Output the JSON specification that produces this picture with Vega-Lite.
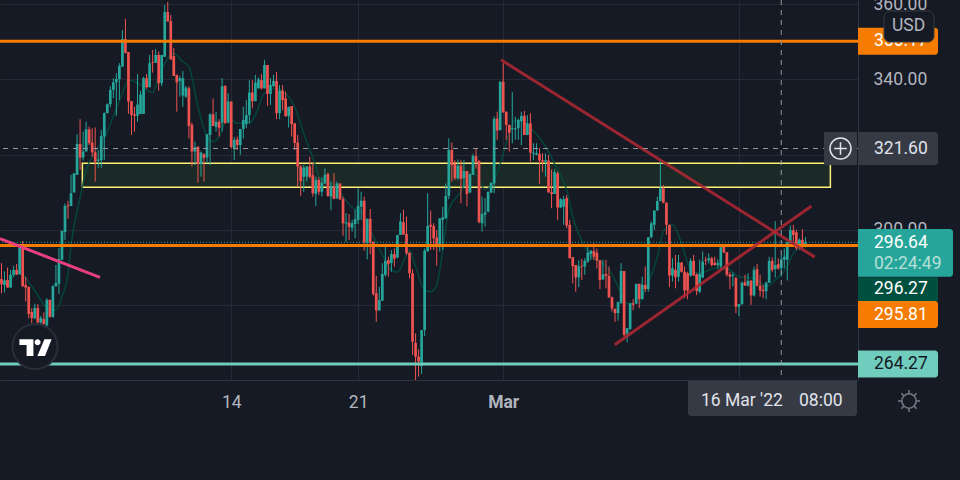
{
  "$schema": "https://vega.github.io/schema/vega-lite/v6.json",
  "width": 858,
  "height": 380,
  "autosize": {"type": "none"},
  "padding": {"left": 0, "top": 0, "right": 102, "bottom": 100},
  "background": "#161a25",
  "config": {"font": "Roboto", "view": {"stroke": null}},
  "datasets": {
    "candles": [
      {"t":"2022-02-01T08:00Z","o":286.9,"h":291.1,"l":283.1,"c":285.5},
      {"t":"2022-02-01T12:00Z","o":285.3,"h":288.9,"l":283.3,"c":286.5},
      {"t":"2022-02-01T16:00Z","o":286.6,"h":289.9,"l":284.6,"c":284.6},
      {"t":"2022-02-01T20:00Z","o":284.6,"h":289.3,"l":284.6,"c":288},
      {"t":"2022-02-02T00:00Z","o":288,"h":290.4,"l":287.4,"c":289.3},
      {"t":"2022-02-02T04:00Z","o":289.3,"h":290.9,"l":287.9,"c":288.1},
      {"t":"2022-02-02T08:00Z","o":288.1,"h":295.3,"l":288.1,"c":295.3},
      {"t":"2022-02-02T12:00Z","o":295.3,"h":297,"l":284.7,"c":285},
      {"t":"2022-02-02T16:00Z","o":285.3,"h":287.4,"l":280.9,"c":284.6},
      {"t":"2022-02-02T20:00Z","o":284.8,"h":284.8,"l":276.4,"c":277.6},
      {"t":"2022-02-03T00:00Z","o":278.1,"h":279.1,"l":275.1,"c":276.5},
      {"t":"2022-02-03T04:00Z","o":276.4,"h":280.3,"l":276.2,"c":279.2},
      {"t":"2022-02-03T08:00Z","o":279.2,"h":280.2,"l":275.1,"c":275.3},
      {"t":"2022-02-03T12:00Z","o":275.3,"h":277.1,"l":274.9,"c":276.5},
      {"t":"2022-02-03T16:00Z","o":276.2,"h":278,"l":274.7,"c":274.9},
      {"t":"2022-02-03T20:00Z","o":274.5,"h":281.8,"l":274.4,"c":281.3},
      {"t":"2022-02-04T00:00Z","o":281.3,"h":281.5,"l":276.6,"c":276.8},
      {"t":"2022-02-04T04:00Z","o":276.8,"h":285.2,"l":276.6,"c":285},
      {"t":"2022-02-04T08:00Z","o":284.9,"h":290.6,"l":284.9,"c":285.8},
      {"t":"2022-02-04T12:00Z","o":285.6,"h":295.1,"l":282.9,"c":292.2},
      {"t":"2022-02-04T16:00Z","o":292,"h":299.7,"l":292,"c":299.7},
      {"t":"2022-02-04T20:00Z","o":299.4,"h":307,"l":297.3,"c":306.3},
      {"t":"2022-02-05T00:00Z","o":306.5,"h":307.7,"l":302.9,"c":306.2},
      {"t":"2022-02-05T04:00Z","o":306.3,"h":314.6,"l":306.3,"c":309.7},
      {"t":"2022-02-05T08:00Z","o":309.9,"h":315,"l":309.9,"c":315},
      {"t":"2022-02-05T12:00Z","o":314.6,"h":325.4,"l":314.6,"c":322.8},
      {"t":"2022-02-05T16:00Z","o":322.8,"h":329.4,"l":315.9,"c":319.2},
      {"t":"2022-02-05T20:00Z","o":319.2,"h":326.1,"l":318.4,"c":320.8},
      {"t":"2022-02-06T00:00Z","o":320.8,"h":328.7,"l":320.8,"c":326.7},
      {"t":"2022-02-06T04:00Z","o":326.7,"h":327.4,"l":322.5,"c":323},
      {"t":"2022-02-06T08:00Z","o":323.2,"h":327,"l":319.4,"c":320.6},
      {"t":"2022-02-06T12:00Z","o":320.6,"h":327.2,"l":312.8,"c":318.1},
      {"t":"2022-02-06T16:00Z","o":318.3,"h":321.2,"l":316.5,"c":318.7},
      {"t":"2022-02-06T20:00Z","o":318.5,"h":326.5,"l":316.5,"c":324.9},
      {"t":"2022-02-07T00:00Z","o":324.8,"h":331.2,"l":318.5,"c":331},
      {"t":"2022-02-07T04:00Z","o":331,"h":333.6,"l":331,"c":333.4},
      {"t":"2022-02-07T08:00Z","o":333.4,"h":338.2,"l":332.6,"c":337.2},
      {"t":"2022-02-07T12:00Z","o":337.2,"h":340.3,"l":335,"c":339.2},
      {"t":"2022-02-07T16:00Z","o":339.2,"h":341.6,"l":330.3,"c":340.1},
      {"t":"2022-02-07T20:00Z","o":340.1,"h":344.3,"l":334.5,"c":343.6},
      {"t":"2022-02-08T00:00Z","o":343.4,"h":353.1,"l":343.4,"c":350.7},
      {"t":"2022-02-08T04:00Z","o":350.7,"h":356.1,"l":346.9,"c":347.1},
      {"t":"2022-02-08T08:00Z","o":347.3,"h":347.3,"l":330.8,"c":334.1},
      {"t":"2022-02-08T12:00Z","o":334.2,"h":334.2,"l":325.2,"c":330.5},
      {"t":"2022-02-08T16:00Z","o":330.7,"h":332.7,"l":326.1,"c":330.3},
      {"t":"2022-02-08T20:00Z","o":330.3,"h":341.4,"l":328.7,"c":333.3},
      {"t":"2022-02-09T00:00Z","o":330.8,"h":337,"l":330.8,"c":336},
      {"t":"2022-02-09T04:00Z","o":330.8,"h":340.7,"l":330.8,"c":340.3},
      {"t":"2022-02-09T08:00Z","o":340.3,"h":341.4,"l":337.5,"c":337.9},
      {"t":"2022-02-09T12:00Z","o":337.9,"h":346.5,"l":337.9,"c":344.3},
      {"t":"2022-02-09T16:00Z","o":344.6,"h":347.8,"l":341.8,"c":344.4},
      {"t":"2022-02-09T20:00Z","o":344.4,"h":348.1,"l":344.4,"c":346.5},
      {"t":"2022-02-10T00:00Z","o":346.5,"h":347.4,"l":337,"c":339},
      {"t":"2022-02-10T04:00Z","o":339,"h":346.5,"l":338.2,"c":346.5},
      {"t":"2022-02-10T08:00Z","o":346,"h":359.8,"l":346,"c":357.9},
      {"t":"2022-02-10T12:00Z","o":357.9,"h":360.6,"l":355.4,"c":355.4},
      {"t":"2022-02-10T16:00Z","o":355.5,"h":357.1,"l":345.2,"c":345.3},
      {"t":"2022-02-10T20:00Z","o":346.2,"h":348.3,"l":340.9,"c":340.9},
      {"t":"2022-02-11T00:00Z","o":341.2,"h":341.2,"l":331.4,"c":339.2},
      {"t":"2022-02-11T04:00Z","o":339.6,"h":340.9,"l":335.4,"c":340.3},
      {"t":"2022-02-11T08:00Z","o":335.7,"h":342.2,"l":332.7,"c":340.3},
      {"t":"2022-02-11T12:00Z","o":335.4,"h":338.2,"l":335.1,"c":337.8},
      {"t":"2022-02-11T16:00Z","o":337.6,"h":338.2,"l":324.3,"c":327.6},
      {"t":"2022-02-11T20:00Z","o":327.9,"h":328.5,"l":316.8,"c":320.8},
      {"t":"2022-02-12T00:00Z","o":320.8,"h":323.4,"l":317.2,"c":321.9},
      {"t":"2022-02-12T04:00Z","o":322.1,"h":322.1,"l":312.5,"c":317.5},
      {"t":"2022-02-12T08:00Z","o":317.5,"h":320.8,"l":314.1,"c":320.5},
      {"t":"2022-02-12T12:00Z","o":320.1,"h":320.3,"l":312.8,"c":319.1},
      {"t":"2022-02-12T16:00Z","o":319.2,"h":325.4,"l":317.7,"c":325.4},
      {"t":"2022-02-12T20:00Z","o":325.2,"h":331,"l":317.2,"c":330.7},
      {"t":"2022-02-13T00:00Z","o":330.7,"h":334.9,"l":327.6,"c":327.6},
      {"t":"2022-02-13T04:00Z","o":327.4,"h":331.4,"l":326.1,"c":328.7},
      {"t":"2022-02-13T08:00Z","o":328.7,"h":329.4,"l":324.8,"c":327.1},
      {"t":"2022-02-13T12:00Z","o":328.5,"h":340.3,"l":326.1,"c":338.2},
      {"t":"2022-02-13T16:00Z","o":338.2,"h":338.5,"l":328.3,"c":328.3},
      {"t":"2022-02-13T20:00Z","o":328.5,"h":336.3,"l":328.3,"c":334.1},
      {"t":"2022-02-14T00:00Z","o":334.1,"h":334.1,"l":321.6,"c":322},
      {"t":"2022-02-14T04:00Z","o":321.6,"h":324.6,"l":318.5,"c":323.9},
      {"t":"2022-02-14T08:00Z","o":324,"h":324.8,"l":321.2,"c":322.5},
      {"t":"2022-02-14T12:00Z","o":322.5,"h":326.8,"l":319.9,"c":326.8},
      {"t":"2022-02-14T16:00Z","o":326.8,"h":332.7,"l":324.3,"c":329.2},
      {"t":"2022-02-14T20:00Z","o":328.1,"h":334.5,"l":327,"c":330.5},
      {"t":"2022-02-15T00:00Z","o":330.5,"h":339.8,"l":328.3,"c":336.5},
      {"t":"2022-02-15T04:00Z","o":336.5,"h":339.8,"l":332.3,"c":334.2},
      {"t":"2022-02-15T08:00Z","o":334.2,"h":341.2,"l":334.2,"c":339.1},
      {"t":"2022-02-15T12:00Z","o":337.6,"h":340.5,"l":337.6,"c":340},
      {"t":"2022-02-15T16:00Z","o":339.8,"h":341.4,"l":337.3,"c":337.6},
      {"t":"2022-02-15T20:00Z","o":337.6,"h":345.2,"l":337.6,"c":343.8},
      {"t":"2022-02-16T00:00Z","o":343.8,"h":343.8,"l":332.9,"c":336.1},
      {"t":"2022-02-16T04:00Z","o":336.1,"h":340.3,"l":333.2,"c":338.5},
      {"t":"2022-02-16T08:00Z","o":338.2,"h":341.2,"l":337.9,"c":339.6},
      {"t":"2022-02-16T12:00Z","o":339.6,"h":342,"l":329.4,"c":331},
      {"t":"2022-02-16T16:00Z","o":331,"h":338.5,"l":329.4,"c":337},
      {"t":"2022-02-16T20:00Z","o":337,"h":338.5,"l":331.8,"c":334.5},
      {"t":"2022-02-17T00:00Z","o":334.9,"h":336.7,"l":330.1,"c":330.2},
      {"t":"2022-02-17T04:00Z","o":330.2,"h":332.7,"l":327.2,"c":332.7},
      {"t":"2022-02-17T08:00Z","o":332.9,"h":332.9,"l":324.8,"c":328.1},
      {"t":"2022-02-17T12:00Z","o":328.3,"h":328.3,"l":321.2,"c":323.1},
      {"t":"2022-02-17T16:00Z","o":323.2,"h":325.2,"l":311.4,"c":316.8},
      {"t":"2022-02-17T20:00Z","o":316.8,"h":317.2,"l":309,"c":312.9},
      {"t":"2022-02-18T00:00Z","o":314.1,"h":317.2,"l":310.1,"c":316.5},
      {"t":"2022-02-18T04:00Z","o":314.1,"h":316.8,"l":312.8,"c":316.8},
      {"t":"2022-02-18T08:00Z","o":316.8,"h":319.4,"l":313.7,"c":314.1},
      {"t":"2022-02-18T12:00Z","o":314.5,"h":317.7,"l":308.8,"c":309.7},
      {"t":"2022-02-18T16:00Z","o":309.5,"h":314.1,"l":306.3,"c":313.2},
      {"t":"2022-02-18T20:00Z","o":313.2,"h":313.9,"l":309.2,"c":310.1},
      {"t":"2022-02-19T00:00Z","o":310.1,"h":313.9,"l":308.8,"c":312.5},
      {"t":"2022-02-19T04:00Z","o":312.3,"h":316.3,"l":312.2,"c":314.6},
      {"t":"2022-02-19T08:00Z","o":314.8,"h":315.2,"l":308.8,"c":309},
      {"t":"2022-02-19T12:00Z","o":308.8,"h":312.8,"l":305.2,"c":311.6},
      {"t":"2022-02-19T16:00Z","o":311.5,"h":315,"l":308.1,"c":308.2},
      {"t":"2022-02-19T20:00Z","o":308.4,"h":312.8,"l":308.1,"c":312.3},
      {"t":"2022-02-20T00:00Z","o":312.3,"h":312.3,"l":307.9,"c":308.1},
      {"t":"2022-02-20T04:00Z","o":308.1,"h":308.8,"l":298.4,"c":301.7},
      {"t":"2022-02-20T08:00Z","o":301.6,"h":304.4,"l":296.8,"c":301.9},
      {"t":"2022-02-20T12:00Z","o":301.9,"h":304.2,"l":297.3,"c":300.8},
      {"t":"2022-02-20T16:00Z","o":300.5,"h":302.6,"l":299.5,"c":301.7},
      {"t":"2022-02-20T20:00Z","o":301.5,"h":305.3,"l":297.7,"c":302.8},
      {"t":"2022-02-21T00:00Z","o":302.6,"h":311,"l":301.5,"c":306.3},
      {"t":"2022-02-21T04:00Z","o":306.1,"h":310.1,"l":302.6,"c":307.7},
      {"t":"2022-02-21T08:00Z","o":307.7,"h":308.8,"l":294.4,"c":296.6},
      {"t":"2022-02-21T12:00Z","o":296.6,"h":302.9,"l":292.1,"c":302.9},
      {"t":"2022-02-21T16:00Z","o":302.9,"h":305.5,"l":293.5,"c":296.6},
      {"t":"2022-02-21T20:00Z","o":296.8,"h":296.8,"l":282.4,"c":282.9},
      {"t":"2022-02-22T00:00Z","o":283.1,"h":287.7,"l":275.5,"c":278.5},
      {"t":"2022-02-22T04:00Z","o":278.5,"h":284.8,"l":278.5,"c":281.3},
      {"t":"2022-02-22T08:00Z","o":281.1,"h":291.1,"l":281.1,"c":288.2},
      {"t":"2022-02-22T12:00Z","o":288,"h":295.7,"l":287.5,"c":291.7},
      {"t":"2022-02-22T16:00Z","o":291.9,"h":292.8,"l":287.5,"c":290.9},
      {"t":"2022-02-22T20:00Z","o":291.1,"h":294.6,"l":288.8,"c":293.5},
      {"t":"2022-02-23T00:00Z","o":293.5,"h":295,"l":290.2,"c":292.3},
      {"t":"2022-02-23T04:00Z","o":292.6,"h":298.6,"l":292.4,"c":298.6},
      {"t":"2022-02-23T08:00Z","o":298.6,"h":304.4,"l":298.6,"c":302.2},
      {"t":"2022-02-23T12:00Z","o":302,"h":305.3,"l":298.7,"c":298.7},
      {"t":"2022-02-23T16:00Z","o":298.9,"h":303.5,"l":293.3,"c":293.7},
      {"t":"2022-02-23T20:00Z","o":293.9,"h":293.9,"l":287,"c":288.4},
      {"t":"2022-02-24T00:00Z","o":288.4,"h":289.5,"l":266.7,"c":270.2},
      {"t":"2022-02-24T04:00Z","o":269.9,"h":272.4,"l":260,"c":266.2},
      {"t":"2022-02-24T08:00Z","o":266.2,"h":268.2,"l":260.9,"c":264.9},
      {"t":"2022-02-24T12:00Z","o":263.7,"h":273.3,"l":261.6,"c":273.3},
      {"t":"2022-02-24T16:00Z","o":273.3,"h":295,"l":271.7,"c":294.4},
      {"t":"2022-02-24T20:00Z","o":294.2,"h":309.7,"l":294.2,"c":301},
      {"t":"2022-02-25T00:00Z","o":301.3,"h":305.1,"l":294.6,"c":300.8},
      {"t":"2022-02-25T04:00Z","o":301,"h":301.7,"l":294.6,"c":297.7},
      {"t":"2022-02-25T08:00Z","o":297.9,"h":299.9,"l":290.4,"c":295.7},
      {"t":"2022-02-25T12:00Z","o":295.9,"h":303,"l":294.2,"c":303},
      {"t":"2022-02-25T16:00Z","o":302.6,"h":306.1,"l":294.6,"c":303.3},
      {"t":"2022-02-25T20:00Z","o":303,"h":312.3,"l":303,"c":309},
      {"t":"2022-02-26T00:00Z","o":309,"h":324.3,"l":308.1,"c":321.2},
      {"t":"2022-02-26T04:00Z","o":321.2,"h":323.2,"l":312.8,"c":317.2},
      {"t":"2022-02-26T08:00Z","o":317.5,"h":318.5,"l":313.2,"c":313.7},
      {"t":"2022-02-26T12:00Z","o":313.7,"h":318.7,"l":313.2,"c":317},
      {"t":"2022-02-26T16:00Z","o":317,"h":318.5,"l":307,"c":313.5},
      {"t":"2022-02-26T20:00Z","o":313.7,"h":318.5,"l":311,"c":315.6},
      {"t":"2022-02-27T00:00Z","o":315.6,"h":315.6,"l":306.2,"c":309.5},
      {"t":"2022-02-27T04:00Z","o":309.9,"h":314.8,"l":309.7,"c":314.8},
      {"t":"2022-02-27T08:00Z","o":314.6,"h":320.2,"l":314.6,"c":319.6},
      {"t":"2022-02-27T12:00Z","o":319.6,"h":321.7,"l":316.3,"c":318.1},
      {"t":"2022-02-27T16:00Z","o":318.3,"h":318.5,"l":301.7,"c":302},
      {"t":"2022-02-27T20:00Z","o":301.7,"h":308.8,"l":299.5,"c":304.2},
      {"t":"2022-02-28T00:00Z","o":304,"h":308.4,"l":300.8,"c":304.6},
      {"t":"2022-02-28T04:00Z","o":304.8,"h":310.1,"l":304.6,"c":310.1},
      {"t":"2022-02-28T08:00Z","o":309.9,"h":312.5,"l":309.7,"c":312.5},
      {"t":"2022-02-28T12:00Z","o":312.3,"h":330.1,"l":309.7,"c":329.5},
      {"t":"2022-02-28T16:00Z","o":329.6,"h":331.4,"l":323.9,"c":326.4},
      {"t":"2022-02-28T20:00Z","o":326.5,"h":339.4,"l":326.4,"c":339.4},
      {"t":"2022-03-01T00:00Z","o":339.4,"h":344.3,"l":331.2,"c":331.2},
      {"t":"2022-03-01T04:00Z","o":331.4,"h":331.4,"l":323.9,"c":327.9},
      {"t":"2022-03-01T08:00Z","o":327.9,"h":327.9,"l":320.8,"c":325.8},
      {"t":"2022-03-01T12:00Z","o":326.7,"h":336.6,"l":323,"c":327},
      {"t":"2022-03-01T16:00Z","o":326.7,"h":330.1,"l":323.9,"c":327},
      {"t":"2022-03-01T20:00Z","o":327,"h":329.6,"l":323.9,"c":329.2},
      {"t":"2022-03-02T00:00Z","o":328.9,"h":331.4,"l":322.5,"c":330.3},
      {"t":"2022-03-02T04:00Z","o":330.3,"h":331.6,"l":325.2,"c":325.2},
      {"t":"2022-03-02T08:00Z","o":325.2,"h":330.5,"l":325.2,"c":328.3},
      {"t":"2022-03-02T12:00Z","o":328.3,"h":331,"l":318.1,"c":320.5},
      {"t":"2022-03-02T16:00Z","o":320.2,"h":323,"l":318.5,"c":320.5},
      {"t":"2022-03-02T20:00Z","o":319.9,"h":323,"l":319.8,"c":320.3},
      {"t":"2022-03-03T00:00Z","o":320.2,"h":321.7,"l":312.2,"c":318.4},
      {"t":"2022-03-03T04:00Z","o":318.5,"h":320.3,"l":315.4,"c":318.1},
      {"t":"2022-03-03T08:00Z","o":318.1,"h":320.3,"l":314.1,"c":318.5},
      {"t":"2022-03-03T12:00Z","o":318.4,"h":319.9,"l":309.9,"c":309.9},
      {"t":"2022-03-03T16:00Z","o":310,"h":316,"l":305.7,"c":309.5},
      {"t":"2022-03-03T20:00Z","o":309.5,"h":316.1,"l":309.5,"c":315.3},
      {"t":"2022-03-04T00:00Z","o":315,"h":315.5,"l":302.6,"c":305.9},
      {"t":"2022-03-04T04:00Z","o":305.9,"h":308.4,"l":305.7,"c":308.1},
      {"t":"2022-03-04T08:00Z","o":306.1,"h":309,"l":301.3,"c":308.1},
      {"t":"2022-03-04T12:00Z","o":308.4,"h":309.2,"l":300.4,"c":301.1},
      {"t":"2022-03-04T16:00Z","o":301.3,"h":302.6,"l":292.4,"c":292.4},
      {"t":"2022-03-04T20:00Z","o":292.7,"h":292.7,"l":285.7,"c":290.3},
      {"t":"2022-03-05T00:00Z","o":290.6,"h":290.6,"l":283.5,"c":287.3},
      {"t":"2022-03-05T04:00Z","o":287.3,"h":291.9,"l":284.7,"c":290.3},
      {"t":"2022-03-05T08:00Z","o":290.4,"h":292.2,"l":286.6,"c":290.2},
      {"t":"2022-03-05T12:00Z","o":290.2,"h":292.4,"l":288,"c":291.7},
      {"t":"2022-03-05T16:00Z","o":291.5,"h":295.7,"l":291.2,"c":293.9},
      {"t":"2022-03-05T20:00Z","o":293.5,"h":294.6,"l":291.9,"c":294.4},
      {"t":"2022-03-06T00:00Z","o":294.3,"h":296.4,"l":291.9,"c":292.8},
      {"t":"2022-03-06T04:00Z","o":293.9,"h":295,"l":289.7,"c":291.8},
      {"t":"2022-03-06T08:00Z","o":291.9,"h":291.9,"l":284.2,"c":286.6},
      {"t":"2022-03-06T12:00Z","o":286.8,"h":292,"l":286.6,"c":288.1},
      {"t":"2022-03-06T16:00Z","o":288.2,"h":292,"l":284.4,"c":287.7},
      {"t":"2022-03-06T20:00Z","o":287.7,"h":290.2,"l":281.8,"c":282},
      {"t":"2022-03-07T00:00Z","o":282,"h":282.2,"l":278.2,"c":279},
      {"t":"2022-03-07T04:00Z","o":278.9,"h":279.1,"l":275.5,"c":277.8},
      {"t":"2022-03-07T08:00Z","o":277.8,"h":280.9,"l":275.8,"c":280.7},
      {"t":"2022-03-07T12:00Z","o":280.4,"h":291.1,"l":280.4,"c":289},
      {"t":"2022-03-07T16:00Z","o":289,"h":289,"l":271.5,"c":272},
      {"t":"2022-03-07T20:00Z","o":272.3,"h":273.8,"l":270,"c":273.8},
      {"t":"2022-03-08T00:00Z","o":273.6,"h":280.4,"l":273.3,"c":280.4},
      {"t":"2022-03-08T04:00Z","o":280.4,"h":281.5,"l":278.6,"c":280},
      {"t":"2022-03-08T08:00Z","o":280.4,"h":285.6,"l":280.2,"c":285.6},
      {"t":"2022-03-08T12:00Z","o":285.6,"h":285.6,"l":279.1,"c":281.5},
      {"t":"2022-03-08T16:00Z","o":281.5,"h":287.5,"l":281.5,"c":285.4},
      {"t":"2022-03-08T20:00Z","o":285.3,"h":290.2,"l":283.5,"c":284.2},
      {"t":"2022-03-09T00:00Z","o":284.2,"h":298,"l":283.5,"c":298},
      {"t":"2022-03-09T04:00Z","o":298,"h":302.2,"l":297.7,"c":301.7},
      {"t":"2022-03-09T08:00Z","o":301.3,"h":305.1,"l":299.9,"c":305.1},
      {"t":"2022-03-09T12:00Z","o":305.1,"h":308.8,"l":305.1,"c":307.6},
      {"t":"2022-03-09T16:00Z","o":307.6,"h":318.6,"l":307.6,"c":311},
      {"t":"2022-03-09T20:00Z","o":311,"h":311.9,"l":307,"c":307.2},
      {"t":"2022-03-10T00:00Z","o":307.2,"h":307.2,"l":298.6,"c":301.3},
      {"t":"2022-03-10T04:00Z","o":301.3,"h":301.3,"l":284.7,"c":287.8},
      {"t":"2022-03-10T08:00Z","o":287.8,"h":292.4,"l":286.2,"c":289.7},
      {"t":"2022-03-10T12:00Z","o":289.3,"h":293.3,"l":284.4,"c":287.3},
      {"t":"2022-03-10T16:00Z","o":287.5,"h":293.3,"l":286.2,"c":291.3},
      {"t":"2022-03-10T20:00Z","o":291.3,"h":291.3,"l":288.6,"c":288.8},
      {"t":"2022-03-11T00:00Z","o":288.8,"h":290.2,"l":281.8,"c":283.8},
      {"t":"2022-03-11T04:00Z","o":288.4,"h":288.8,"l":281.5,"c":283.8},
      {"t":"2022-03-11T08:00Z","o":287.8,"h":292.4,"l":287.5,"c":291.7},
      {"t":"2022-03-11T12:00Z","o":291.7,"h":293.3,"l":287.7,"c":287.8},
      {"t":"2022-03-11T16:00Z","o":288.1,"h":288.4,"l":282.6,"c":283.7},
      {"t":"2022-03-11T20:00Z","o":283.5,"h":292,"l":283.1,"c":288.2},
      {"t":"2022-03-12T00:00Z","o":287.3,"h":294.2,"l":287.1,"c":291.5},
      {"t":"2022-03-12T04:00Z","o":292,"h":292.8,"l":290.6,"c":291.8},
      {"t":"2022-03-12T08:00Z","o":291.8,"h":293.7,"l":291,"c":292.4},
      {"t":"2022-03-12T12:00Z","o":292.4,"h":292.8,"l":290.2,"c":290.6},
      {"t":"2022-03-12T16:00Z","o":291.2,"h":292.8,"l":290.4,"c":290.6},
      {"t":"2022-03-12T20:00Z","o":290.6,"h":292.1,"l":289.7,"c":291.1},
      {"t":"2022-03-13T00:00Z","o":290.2,"h":295.7,"l":289.7,"c":295.3},
      {"t":"2022-03-13T04:00Z","o":295.7,"h":295.9,"l":293.7,"c":294},
      {"t":"2022-03-13T08:00Z","o":294,"h":294,"l":287.5,"c":288},
      {"t":"2022-03-13T12:00Z","o":288.1,"h":288.8,"l":284.2,"c":287.5},
      {"t":"2022-03-13T16:00Z","o":287.7,"h":288.6,"l":284.9,"c":288},
      {"t":"2022-03-13T20:00Z","o":287.1,"h":287.5,"l":277.8,"c":279.5},
      {"t":"2022-03-14T00:00Z","o":279.5,"h":280.2,"l":277,"c":280.2},
      {"t":"2022-03-14T04:00Z","o":280.2,"h":286.2,"l":280,"c":285.9},
      {"t":"2022-03-14T08:00Z","o":286,"h":288,"l":285.1,"c":285.1},
      {"t":"2022-03-14T12:00Z","o":285.1,"h":288.4,"l":284.9,"c":286.4},
      {"t":"2022-03-14T16:00Z","o":286.4,"h":286.6,"l":280,"c":282.5},
      {"t":"2022-03-14T20:00Z","o":282.5,"h":290.2,"l":282.2,"c":289.3},
      {"t":"2022-03-15T00:00Z","o":289.5,"h":290.9,"l":284.9,"c":285.1},
      {"t":"2022-03-15T04:00Z","o":285.1,"h":288,"l":282.2,"c":283.8},
      {"t":"2022-03-15T08:00Z","o":284,"h":285.3,"l":281.8,"c":283.6},
      {"t":"2022-03-15T12:00Z","o":283.6,"h":286.2,"l":281.5,"c":285.9},
      {"t":"2022-03-15T16:00Z","o":285.9,"h":292.8,"l":285.9,"c":291.7},
      {"t":"2022-03-15T20:00Z","o":291.7,"h":292.6,"l":288.8,"c":289.3},
      {"t":"2022-03-16T00:00Z","o":289.5,"h":302.3,"l":287.3,"c":290.6},
      {"t":"2022-03-16T04:00Z","o":290.8,"h":292.4,"l":289.3,"c":289.7},
      {"t":"2022-03-16T08:00Z","o":289.7,"h":293.3,"l":287.5,"c":292.1},
      {"t":"2022-03-16T12:00Z","o":292,"h":295,"l":289.7,"c":292.8},
      {"t":"2022-03-16T16:00Z","o":292,"h":296.8,"l":286.5,"c":296.6},
      {"t":"2022-03-16T20:00Z","o":296.4,"h":301.1,"l":296.4,"c":299.9},
      {"t":"2022-03-17T00:00Z","o":299.8,"h":301.3,"l":296.8,"c":298.6},
      {"t":"2022-03-17T04:00Z","o":299.3,"h":300,"l":294.6,"c":295.1},
      {"t":"2022-03-17T08:00Z","o":295.1,"h":297.7,"l":294.6,"c":297.3},
      {"t":"2022-03-17T12:00Z","o":297.3,"h":300.1,"l":295.1,"c":295.5},
      {"t":"2022-03-17T16:00Z","o":295.5,"h":298,"l":295.3,"c":296.64}
    ],
    "ema": [
      {"t":"2022-02-01T20:00Z","p":286.4},{"t":"2022-02-02T04:00Z","p":288.4},{"t":"2022-02-02T12:00Z","p":288},
      {"t":"2022-02-03T00:00Z","p":284.9},{"t":"2022-02-03T12:00Z","p":281.3},{"t":"2022-02-03T20:00Z","p":279.1},
      {"t":"2022-02-04T08:00Z","p":278.6},{"t":"2022-02-04T16:00Z","p":282.2},{"t":"2022-02-05T00:00Z","p":288.4},
      {"t":"2022-02-05T04:00Z","p":295.9},{"t":"2022-02-05T16:00Z","p":308.5},{"t":"2022-02-06T00:00Z","p":315.9},
      {"t":"2022-02-06T08:00Z","p":319.4},{"t":"2022-02-07T00:00Z","p":324.3},{"t":"2022-02-07T12:00Z","p":330.1},
      {"t":"2022-02-08T00:00Z","p":336.3},{"t":"2022-02-08T08:00Z","p":339.8},{"t":"2022-02-08T20:00Z","p":339.1},
      {"t":"2022-02-09T08:00Z","p":337.2},{"t":"2022-02-09T16:00Z","p":336.5},{"t":"2022-02-10T00:00Z","p":340.7},
      {"t":"2022-02-10T12:00Z","p":345.6},{"t":"2022-02-10T20:00Z","p":346.9},{"t":"2022-02-11T08:00Z","p":344.7},
      {"t":"2022-02-11T16:00Z","p":343.4},{"t":"2022-02-12T04:00Z","p":332.7},{"t":"2022-02-12T16:00Z","p":324.8},
      {"t":"2022-02-13T00:00Z","p":323.4},{"t":"2022-02-13T08:00Z","p":324.8},{"t":"2022-02-13T20:00Z","p":330.1},
      {"t":"2022-02-14T08:00Z","p":328.3},{"t":"2022-02-15T00:00Z","p":328.3},{"t":"2022-02-15T08:00Z","p":330.5},
      {"t":"2022-02-15T20:00Z","p":336.3},{"t":"2022-02-16T12:00Z","p":337.6},{"t":"2022-02-17T00:00Z","p":336.3},
      {"t":"2022-02-17T12:00Z","p":332.7},{"t":"2022-02-18T00:00Z","p":325.6},{"t":"2022-02-18T16:00Z","p":316.8},
      {"t":"2022-02-18T20:00Z","p":314.1},{"t":"2022-02-19T16:00Z","p":311.9},{"t":"2022-02-20T04:00Z","p":308.8},
      {"t":"2022-02-20T16:00Z","p":305.9},{"t":"2022-02-21T04:00Z","p":304.8},{"t":"2022-02-21T16:00Z","p":299.9},
      {"t":"2022-02-22T08:00Z","p":293.3},{"t":"2022-02-22T20:00Z","p":289.3},{"t":"2022-02-23T04:00Z","p":288.7},
      {"t":"2022-02-23T20:00Z","p":294.6},{"t":"2022-02-24T04:00Z","p":290.2},{"t":"2022-02-24T16:00Z","p":283.9},
      {"t":"2022-02-25T00:00Z","p":283.5},{"t":"2022-02-25T08:00Z","p":285.3},{"t":"2022-02-25T16:00Z","p":294.6},
      {"t":"2022-02-26T00:00Z","p":305.3},{"t":"2022-02-26T16:00Z","p":310.1},{"t":"2022-02-27T04:00Z","p":315},
      {"t":"2022-02-27T12:00Z","p":314.6},{"t":"2022-02-28T00:00Z","p":310.6},{"t":"2022-02-28T16:00Z","p":315},
      {"t":"2022-03-01T04:00Z","p":323},{"t":"2022-03-01T16:00Z","p":329.2},{"t":"2022-03-02T12:00Z","p":327},
      {"t":"2022-03-03T04:00Z","p":323.4},{"t":"2022-03-04T00:00Z","p":315.9},{"t":"2022-03-04T12:00Z","p":310.6},
      {"t":"2022-03-04T20:00Z","p":303.5},{"t":"2022-03-05T12:00Z","p":295.5},{"t":"2022-03-05T20:00Z","p":292.8},
      {"t":"2022-03-06T08:00Z","p":291.5},{"t":"2022-03-06T20:00Z","p":289.3},{"t":"2022-03-07T08:00Z","p":284.9},
      {"t":"2022-03-07T20:00Z","p":280.4},{"t":"2022-03-08T12:00Z","p":280.4},{"t":"2022-03-08T20:00Z","p":284},
      {"t":"2022-03-09T12:00Z","p":292.8},{"t":"2022-03-09T20:00Z","p":299.5},{"t":"2022-03-10T08:00Z","p":301.3},
      {"t":"2022-03-10T20:00Z","p":296.4},{"t":"2022-03-11T08:00Z","p":289.3},{"t":"2022-03-11T20:00Z","p":288.4},
      {"t":"2022-03-12T16:00Z","p":289.7},{"t":"2022-03-13T08:00Z","p":289.7},{"t":"2022-03-14T00:00Z","p":287.5},
      {"t":"2022-03-14T20:00Z","p":287.1},{"t":"2022-03-15T12:00Z","p":284.9},{"t":"2022-03-16T00:00Z","p":286.6},
      {"t":"2022-03-16T16:00Z","p":290.2},{"t":"2022-03-17T00:00Z","p":293.7},{"t":"2022-03-17T16:00Z","p":296.27}
    ],
    "redlines": [
      {"line":"falling","t":"2022-02-28T21:00Z","p":345.2},
      {"line":"falling","t":"2022-03-18T04:20Z","p":292.7},
      {"line":"rising","t":"2022-03-07T03:40Z","p":269.4},
      {"line":"rising","t":"2022-03-18T00:00Z","p":306.3}
    ],
    "pinkline": [
      {"t":"2022-02-01T06:00Z","p":297.6},
      {"t":"2022-02-06T18:17Z","p":287.3}
    ]
  },
  "layer": [
    {
      "data": {"values": [{"t":"2022-02-05T19:00Z","t2":"2022-03-19T01:00Z","top":317.7,"bottom":311.3}]},
      "mark": {"type": "rect", "fill": "#1c2a27", "stroke": "#fff176", "strokeWidth": 1.5},
      "encoding": {
        "x": {
          "field": "t", "type": "temporal", "title": null,
          "scale": {"type": "utc", "domain": [1643695200000, 1647783240000], "nice": false, "padding": 0},
          "axis": {
            "values": ["2022-02-14T00:00Z", "2022-02-21T00:00Z", "2022-03-01T00:00Z", "2022-03-14T00:00Z"],
            "labelExpr": "utcdate(datum.value) == 1 ? 'Mar' : '' + utcdate(datum.value)",
            "labelFontWeight": {"condition": {"test": "utcdate(datum.value) == 1", "value": 700}, "value": 400},
            "labelColor": "#b2b5be", "labelFontSize": 17.5, "labelPadding": 13,
            "tickSize": 0, "grid": true, "gridColor": "#262a36", "gridWidth": 1,
            "domainColor": "#2f333f", "domainWidth": 1, "labelFlush": false, "labelOverlap": false, "labelBound": false
          }
        },
        "x2": {"field": "t2"},
        "y": {
          "field": "top", "type": "quantitative", "title": null,
          "scale": {"domain": [260, 361.12], "nice": false, "zero": false},
          "axis": {
            "orient": "right", "values": [280, 300, 320, 340, 360], "format": ".2f",
            "labelColor": "#b2b5be", "labelFontSize": 17.5, "labelPadding": 15,
            "tickSize": 0, "grid": true, "gridColor": "#262a36", "gridWidth": 1,
            "domainColor": "#2f333f", "domainWidth": 1, "labelFlush": false, "labelOverlap": false, "labelBound": false
          }
        },
        "y2": {"field": "bottom"}
      }
    },
    {
      "data": {"name": "ema"},
      "mark": {"type": "line", "color": "#004d40", "strokeWidth": 1.5, "interpolate": "monotone", "opacity": 0.85},
      "encoding": {
        "x": {"field": "t", "type": "temporal", "title": null},
        "y": {"field": "p", "type": "quantitative", "title": null}
      }
    },
    {
      "data": {"name": "candles"},
      "mark": {"type": "rule", "strokeWidth": 1},
      "encoding": {
        "x": {"field": "t", "type": "temporal", "title": null},
        "y": {"field": "l", "type": "quantitative", "title": null},
        "y2": {"field": "h"},
        "color": {"condition": {"test": "datum.c >= datum.o", "value": "#26a69a"}, "value": "#ef5350"}
      }
    },
    {
      "data": {"name": "candles"},
      "mark": {"type": "bar", "width": 2.7},
      "encoding": {
        "x": {"field": "t", "type": "temporal", "title": null},
        "y": {"field": "o", "type": "quantitative", "title": null},
        "y2": {"field": "c"},
        "color": {"condition": {"test": "datum.c >= datum.o", "value": "#26a69a"}, "value": "#ef5350"}
      }
    },
    {
      "data": {"values": [{"price": 296.64}]},
      "mark": {"type": "rule", "color": "#26a69a", "strokeWidth": 1, "strokeDash": [1, 2]},
      "encoding": {"y": {"field": "price", "type": "quantitative", "title": null}}
    },
    {
      "data": {"values": [{"price": 350.17}, {"price": 295.81}]},
      "mark": {"type": "rule", "color": "#f57c00", "strokeWidth": 3},
      "encoding": {"y": {"field": "price", "type": "quantitative", "title": null}}
    },
    {
      "data": {"values": [{"price": 264.27}]},
      "mark": {"type": "rule", "color": "#70ccbd", "strokeWidth": 3},
      "encoding": {"y": {"field": "price", "type": "quantitative", "title": null}}
    },
    {
      "data": {"name": "pinkline"},
      "mark": {"type": "line", "color": "#e8407f", "strokeWidth": 3, "clip": true},
      "encoding": {
        "x": {"field": "t", "type": "temporal", "title": null},
        "y": {"field": "p", "type": "quantitative", "title": null}
      }
    },
    {
      "data": {"name": "redlines"},
      "mark": {"type": "line", "color": "#b22833", "strokeWidth": 3, "opacity": 0.85},
      "encoding": {
        "x": {"field": "t", "type": "temporal", "title": null},
        "y": {"field": "p", "type": "quantitative", "title": null},
        "detail": {"field": "line"}
      }
    },
    {
      "data": {"values": [{"price": 321.6}]},
      "mark": {"type": "rule", "color": "#9598a1", "strokeWidth": 1, "strokeDash": [5, 5]},
      "encoding": {"y": {"field": "price", "type": "quantitative", "title": null}}
    },
    {
      "data": {"values": [{"t": "2022-03-16T08:00Z"}]},
      "mark": {"type": "rule", "color": "#9598a1", "strokeWidth": 1, "strokeDash": [5, 5]},
      "encoding": {"x": {"field": "t", "type": "temporal", "title": null}}
    },
    {
      "data": {"values": [{"name": "TradingView", "t": "2022-02-03T04:20Z", "p": 268.9}]},
      "mark": {"type": "point", "shape": "circle", "size": 2025, "filled": true, "fill": "#161a25", "stroke": "#2a2e39", "strokeWidth": 2, "opacity": 1},
      "encoding": {
        "x": {"field": "t", "type": "temporal", "title": null},
        "y": {"field": "p", "type": "quantitative", "title": null}
      }
    },
    {
      "data": {"values": [{"name": "TradingView", "t": "2022-02-03T04:20Z", "p": 268.9}]},
      "mark": {
        "type": "point", "size": 1600, "filled": true, "fill": "#ffffff", "stroke": null, "opacity": 1,
        "shape": "M-.78,-.37L-.08,-.37L-.08,.47L-.42,.47L-.42,-.08L-.78,-.08ZM.28,-.22A.15,.15 0 1 1 -.02,-.22A.15,.15 0 1 1 .28,-.22ZM.47,-.37L.83,-.37L.5,.47L.12,.47Z"
      },
      "encoding": {
        "x": {"field": "t", "type": "temporal", "title": null},
        "y": {"field": "p", "type": "quantitative", "title": null}
      }
    },
    {
      "data": {"values": [{}]},
      "mark": {"type": "rule", "x": {"expr": "width"}, "x2": {"expr": "width+102"}, "y": {"expr": "height"}, "y2": {"expr": "height"}, "color": "#2f333f"},
      "encoding": {}
    },
    {
      "data": {"values": [{}]},
      "mark": {"type": "rule", "x": 0, "x2": {"expr": "width+102"}, "y": {"expr": "height+42"}, "y2": {"expr": "height+42"}, "color": "#2f333f"},
      "encoding": {}
    },
    {
      "data": {"values": [{}]},
      "mark": {"type": "rule", "x": {"expr": "width"}, "x2": {"expr": "width"}, "y": {"expr": "height"}, "y2": {"expr": "height+42"}, "color": "#2f333f"},
      "encoding": {}
    },
    {
      "data": {"values": [{}]},
      "mark": {"type": "rect", "x": {"expr": "width-170"}, "x2": {"expr": "width-1"}, "y": {"expr": "height+1"}, "y2": {"expr": "height+36"}, "fill": "#363a45", "cornerRadiusBottomLeft": 3, "cornerRadiusBottomRight": 3},
      "encoding": {}
    },
    {
      "data": {"values": [{"label": "16 Mar '22"}]},
      "mark": {"type": "text", "x": {"expr": "width-157"}, "y": {"expr": "height+21"}, "align": "left", "baseline": "middle", "fontSize": 17.5, "color": "#e0e3eb"},
      "encoding": {"text": {"field": "label"}}
    },
    {
      "data": {"values": [{"label": "08:00"}]},
      "mark": {"type": "text", "x": {"expr": "width-59"}, "y": {"expr": "height+21"}, "align": "left", "baseline": "middle", "fontSize": 17.5, "color": "#e0e3eb"},
      "encoding": {"text": {"field": "label"}}
    },
    {
      "data": {"values": [{"name": "settings"}]},
      "mark": {
        "type": "point", "size": 484, "filled": false, "stroke": "#787b86", "strokeWidth": 1.5, "opacity": 1,
        "x": {"expr": "width+51"}, "y": {"expr": "height+21"},
        "shape": "M.65,0A.65,.65 0 1 1 -.65,0A.65,.65 0 1 1 .65,0ZM0,-.65L0,-1M0,.65L0,1M-.65,0L-1,0M.65,0L1,0M.46,.46L.7,.7M-.46,.46L-.7,.7M.46,-.46L.7,-.7M-.46,-.46L-.7,-.7"
      },
      "encoding": {}
    },
    {
      "data": {"values": [{"price": 321.6}]},
      "mark": {"type": "rect", "x": {"expr": "width-34"}, "x2": {"expr": "width-1"}, "height": 33, "fill": "#363a45"},
      "encoding": {"y": {"field": "price", "type": "quantitative", "title": null}}
    },
    {
      "data": {"values": [{"price": 321.6}]},
      "mark": {
        "type": "point", "size": 441, "filled": false, "stroke": "#e0e3eb", "strokeWidth": 1.5, "opacity": 1,
        "x": {"expr": "width-17.5"},
        "shape": "M1,0A1,1 0 1 1 -1,0A1,1 0 1 1 1,0ZM-.6,0L.6,0M0,-.6L0,.6"
      },
      "encoding": {"y": {"field": "price", "type": "quantitative", "title": null}}
    },
    {
      "data": {"values": [{"price": 321.6}]},
      "mark": {"type": "rect", "x": "width", "x2": {"expr": "width+80"}, "height": 33, "fill": "#363a45", "cornerRadiusTopRight": 3, "cornerRadiusBottomRight": 3},
      "encoding": {"y": {"field": "price", "type": "quantitative", "title": null}}
    },
    {
      "data": {"values": [{"price": 321.6, "label": "321.60"}]},
      "mark": {"type": "text", "x": "width", "dx": 16, "align": "left", "baseline": "middle", "fontSize": 17.5, "color": "#e0e3eb"},
      "encoding": {"y": {"field": "price", "type": "quantitative", "title": null}, "text": {"field": "label"}}
    },
    {
      "data": {"values": [{"price": 350.17}]},
      "mark": {"type": "rect", "x": "width", "x2": {"expr": "width+80"}, "height": 27, "fill": "#f57c00", "cornerRadiusTopRight": 3, "cornerRadiusBottomRight": 3},
      "encoding": {"y": {"field": "price", "type": "quantitative", "title": null}}
    },
    {
      "data": {"values": [{"price": 350.17, "label": "350.17"}]},
      "mark": {"type": "text", "x": "width", "dx": 16, "align": "left", "baseline": "middle", "fontSize": 17.5, "color": "#ffffff"},
      "encoding": {"y": {"field": "price", "type": "quantitative", "title": null}, "text": {"field": "label"}}
    },
    {
      "data": {"values": [{"price": 264.27}]},
      "mark": {"type": "rect", "x": "width", "x2": {"expr": "width+80"}, "height": 27, "fill": "#70ccbd", "cornerRadiusTopRight": 3, "cornerRadiusBottomRight": 3},
      "encoding": {"y": {"field": "price", "type": "quantitative", "title": null}}
    },
    {
      "data": {"values": [{"price": 264.27, "label": "264.27"}]},
      "mark": {"type": "text", "x": "width", "dx": 16, "align": "left", "baseline": "middle", "fontSize": 17.5, "color": "#131722"},
      "encoding": {"y": {"field": "price", "type": "quantitative", "title": null}, "text": {"field": "label"}}
    },
    {
      "data": {"values": [{"price": 296.64}]},
      "mark": {"type": "rect", "x": "width", "x2": {"expr": "width+95"}, "height": 47.7, "yOffset": 10.6, "fill": "#26a69a", "cornerRadiusTopRight": 3, "cornerRadiusBottomRight": 3},
      "encoding": {"y": {"field": "price", "type": "quantitative", "title": null}}
    },
    {
      "data": {"values": [{"price": 296.64, "label": "296.64"}]},
      "mark": {"type": "text", "x": "width", "dx": 16, "yOffset": 0.7, "align": "left", "baseline": "middle", "fontSize": 17.5, "color": "#ffffff"},
      "encoding": {"y": {"field": "price", "type": "quantitative", "title": null}, "text": {"field": "label"}}
    },
    {
      "data": {"values": [{"price": 296.64, "label": "02:24:49"}]},
      "mark": {"type": "text", "x": "width", "dx": 16, "yOffset": 21.3, "align": "left", "baseline": "middle", "fontSize": 17.5, "color": "#b5e0d9"},
      "encoding": {"y": {"field": "price", "type": "quantitative", "title": null}, "text": {"field": "label"}}
    },
    {
      "data": {"values": [{"price": 296.27}]},
      "mark": {"type": "rect", "x": "width", "x2": {"expr": "width+80"}, "height": 24, "yOffset": 45.5, "fill": "#00503f"},
      "encoding": {"y": {"field": "price", "type": "quantitative", "title": null}}
    },
    {
      "data": {"values": [{"price": 296.27, "label": "296.27"}]},
      "mark": {"type": "text", "x": "width", "dx": 16, "yOffset": 45.5, "align": "left", "baseline": "middle", "fontSize": 17.5, "color": "#ffffff"},
      "encoding": {"y": {"field": "price", "type": "quantitative", "title": null}, "text": {"field": "label"}}
    },
    {
      "data": {"values": [{"price": 295.81}]},
      "mark": {"type": "rect", "x": "width", "x2": {"expr": "width+80"}, "height": 27, "yOffset": 69.1, "fill": "#f57c00", "cornerRadiusTopRight": 3, "cornerRadiusBottomRight": 3},
      "encoding": {"y": {"field": "price", "type": "quantitative", "title": null}}
    },
    {
      "data": {"values": [{"price": 295.81, "label": "295.81"}]},
      "mark": {"type": "text", "x": "width", "dx": 16, "yOffset": 69.1, "align": "left", "baseline": "middle", "fontSize": 17.5, "color": "#ffffff"},
      "encoding": {"y": {"field": "price", "type": "quantitative", "title": null}, "text": {"field": "label"}}
    },
    {
      "data": {"values": [{}]},
      "mark": {"type": "rect", "x": {"expr": "width+26"}, "x2": {"expr": "width+76"}, "y": 11, "y2": 42, "fill": "#161a25", "stroke": "#363a45", "strokeWidth": 1, "cornerRadius": 6},
      "encoding": {}
    },
    {
      "data": {"values": [{"label": "USD"}]},
      "mark": {"type": "text", "x": {"expr": "width+50.5"}, "y": 25.5, "align": "center", "baseline": "middle", "fontSize": 17.5, "color": "#b2b5be"},
      "encoding": {"text": {"field": "label"}}
    }
  ]
}
